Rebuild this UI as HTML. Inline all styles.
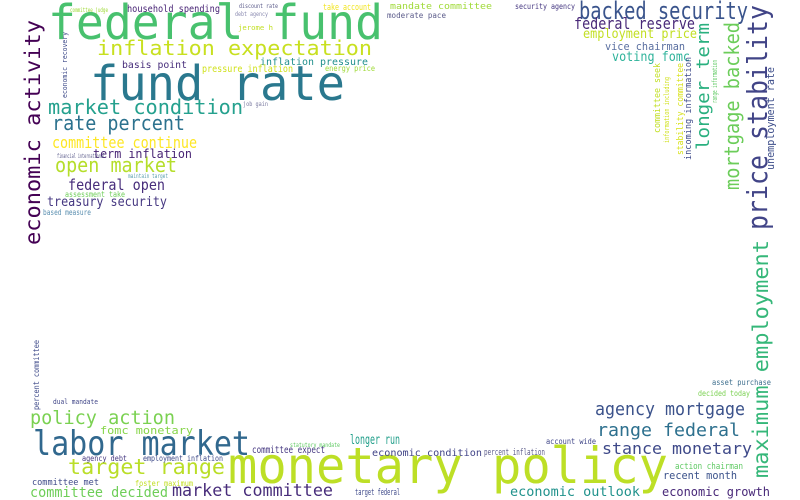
<!DOCTYPE html>
<html><head><meta charset="utf-8"><style>
html,body{margin:0;padding:0;background:#fff;width:800px;height:500px;overflow:hidden}
svg text{font-family:"DejaVu Sans Mono","Liberation Mono",monospace}
</style></head><body>
<svg id="cloud" width="800" height="500" viewBox="0 0 800 500" xmlns="http://www.w3.org/2000/svg">
<rect width="800" height="500" fill="#fff"/>
</svg>
<script>
const words = ["federal fund","fund rate","inflation expectation","market condition","rate percent","committee continue","open market","federal open","treasury security","term inflation","household spending","basis point","inflation pressure","pressure inflation","energy price","take account","economic activity","backed security","federal reserve","employment price","vice chairman","voting fomc","price stability","mortgage backed","longer term","unemployment rate","maximum employment","monetary policy","labor market","target range","policy action","fomc monetary","committee decided","market committee","committee met","agency mortgage","range federal","stance monetary","longer run","committee expect","economic condition","percent inflation","economic outlook","economic growth","recent month","action chairman","asset purchase","decided today","account wide","target federal","agency debt","employment inflation","foster maximum","statutory mandate","security agency","mandate committee","moderate pace","discount rate","jerome h","debt agency","committee judge","percent committee","economic recovery","committee seek","stability committee","incoming information","information including","range information","assessment take","based measure","dual mandate","job gain","maintain target","financial international"];
const wx   = [48,90,97,48,52,52,55,68,47,93,127,122,260,202,325,323,40,579,574,583,605,612,767,739,709,774,768,228,33,68,30,100,30,172,32,595,597,602,350,252,372,484,510,662,663,675,712,698,546,355,82,143,135,290,515,390,387,239,238,235,70,39,67,660,683,691,669,717,65,43,53,243,128,57];
const wy   = [39,100,55,114,130,148,172,190,206,158,12,68,65,72,71,10,245,19,29,38,50,61,230,190,150,170,478,483,455,474,424,434,497,496,485,415,436,454,444,453,456,455,496,496,479,469,385,396,444,495,461,461,486,447,9,9,18,8,30,16,12,410,98,133,155,160,143,103,197,215,404,106,178,158];
const ws   = [48,48,20,20,20,16,20,15,13,12,10,10,10,10,8,9,21,24,16,13,11,13,28,20,18,11,21,50,34,21,19,11,14,17,9,18,18,16,13,10,10,9,13,12,11,9,8,8,8,9,8,8,8,6,8,9,8,6,7,6,6,8,7,9,9,9,7,7,8,8,7,6,6,6];
const wl   = [335,255,275,195,133,145,122,97,120,99,93,65,108,91,50,48,225,169,121,114,80,78,225,168,127,103,238,440,217,157,145,93,138,161,67,150,143,150,50,73,110,61,130,108,74,68,59,52,50,45,45,80,58,50,60,102,59,39,35,33,38,70,66,70,92,103,66,43,60,48,45,25,40,48];
const wc   = ["#48c16e","#2a788e","#c8e020","#25a18e","#2c728e","#fde725","#b5de2b","#472d7b","#453781","#482475","#482475","#472d7b","#21908d","#d0e11c","#a0da39","#f1e51d","#440154","#3a548c","#482878","#c2df23","#5a6fa0","#2eb39a","#414487","#6ccd5a","#2ab07f","#3d4e8a","#35b779","#bddf26","#31688e","#bade28","#7ad151","#86d549","#6ece58","#472c7a","#3e4a89","#3b528b","#2d708e","#3e4989","#1f9e89","#453781","#414487","#5b5b8a","#20928c","#482878","#3b528b","#5ec962","#3e6f8e","#7ad151","#404688","#3e4989","#453781","#3e4a89","#c2df23","#5ec962","#453781","#a0da39","#5b5b8a","#5b5b8a","#c2df23","#8a8ab0","#a0da39","#3e4a89","#3e4a89","#c2df23","#d8e219","#3e4a89","#d0e11c","#5ec962","#6ece58","#5b8fb0","#404688","#7a7aa0","#5b9fb0","#5b5b8a"];
const wr   = [0,0,0,0,0,0,0,0,0,0,0,0,0,0,0,0,1,0,0,0,0,0,1,1,1,1,1,0,0,0,0,0,0,0,0,0,0,0,0,0,0,0,0,0,0,0,0,0,0,0,0,0,0,0,0,0,0,0,0,0,0,1,1,1,1,1,1,1,0,0,0,0,0,0];

const svg = document.getElementById('cloud');
const NS = 'http://www.w3.org/2000/svg';
for (let i = 0; i < words.length; i++) {
  const t = document.createElementNS(NS, 'text');
  
  
  t.setAttribute('x', wx[i]);
  t.setAttribute('y', wy[i]);
  t.setAttribute('font-size', ws[i]);
  t.setAttribute('fill', wc[i]);
  t.setAttribute('textLength', wl[i]);
  t.setAttribute('lengthAdjust', 'spacingAndGlyphs');
  if (wr[i]) t.setAttribute('transform', 'rotate(-90 ' + wx[i] + ' ' + wy[i] + ')');
  t.textContent = words[i];
  svg.appendChild(t);
}
</script>
</body></html>
